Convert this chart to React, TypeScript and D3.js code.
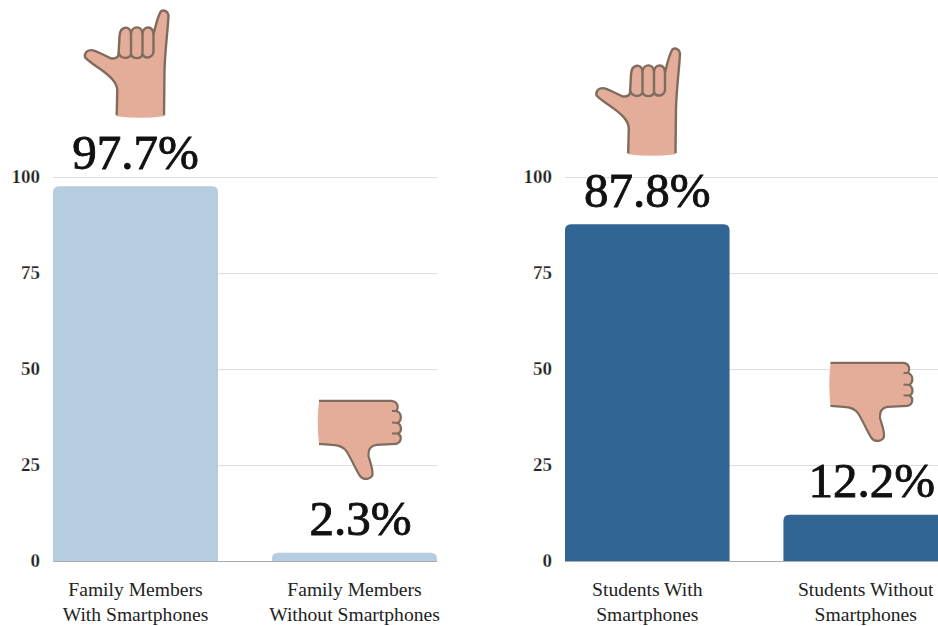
import React from "react";
import * as d3 from "d3";

const ticks = [0, 25, 50, 75, 100];
const familyCategories = [["Family Members", "With Smartphones"], ["Family Members", "Without Smartphones"]];
const familyValues = [97.7, 2.3];
const studentCategories = [["Students With", "Smartphones"], ["Students Without", "Smartphones"]];
const studentValues = [87.8, 12.2];
const colors = { family: "#b6cce0", student: "#316594" };

const y = d3.scaleLinear().domain([0, 100]).range([561.5, 177.5]);
const serif = "'Liberation Serif', serif";
const SKIN = "#e3ad99";
const LINE = "#7f6c5c";

const upOutline = "C57 82 50 76 42 70 C34 64 28 61 25 57 C24 52 28 49 33 50 C40 52 46 56 51 58 C54 58.5 57 58 58.5 55 L59.5 36 C60 25 70.5 25 71 33 C72 25 82 25 82.5 33 C83.5 25 93 25 93.5 34 C96 24 98 15 101 11 C104 9 108 11 108.5 15 C108 28 105 50 104.5 70 L104";
const upFill = `M56.7 116 L57.3 90 ${upOutline} 116 Q80 119 56.7 116 Z`;
const upLine = `M56.7 115 L57.3 90 ${upOutline} 115`;
const fingerLines = ["M58.5 52 C60 59 69 59 71 54 L71 33", "M71 54 C73 59 81 59 82.5 54 L82.5 33", "M82.5 54 C85 59 92 58 93.5 52 L93.5 34"];
const downOutline = "M19 11 L92 11 C98 12 99 17 96.5 21 C102 23 102 30 98 33 C102 36 102 42 98 43.5 C102 46 102 52 96 54 L76 55 C70 56 68 60 68.5 66 C70 72 73 78 72.5 85 C71 89 64 91 60 86 C56 80 53 72 47 62 C43 56 38 55 32 55 L19 54";
const downFill = `${downOutline} Q16.5 32 19 11 Z`;
const downLine = downOutline;
const downKnuckles = ["M96.5 21 L92 21", "M98 33 L92 32.5", "M98 43.5 L92 43.5"];

function topRounded(x: number, top: number, w: number, bottom: number, r: number) {
  const p = d3.path();
  const rr = Math.min(r, bottom - top);
  p.moveTo(x, bottom);
  p.lineTo(x, top + rr);
  p.quadraticCurveTo(x, top, x + rr, top);
  p.lineTo(x + w - rr, top);
  p.quadraticCurveTo(x + w, top, x + w, top + rr);
  p.lineTo(x + w, bottom);
  p.closePath();
  return p.toString();
}

function Panel({ x0, x1, gridEnd, tickX, cats, vals, color, handDx }: any) {
  const x = d3.scaleBand<number>().domain([0, 1]).range([x0, x1]).paddingInner(54 / 219).paddingOuter(0);
  return (
    <g>
      {ticks.map((t) => (
        <g key={t}>
          {t > 0 && <line x1={x0} x2={gridEnd} y1={y(t)} y2={y(t)} stroke="#dcdcdc" />}
          <text x={tickX} y={y(t) + 5.5} textAnchor="end" fontFamily={serif} fontWeight={700} fontSize={19} fill="#222" stroke="#fff" strokeWidth={0.25}>{t}</text>
        </g>
      ))}
      {vals.map((v: number, i: number) => {
        const bx = x(i)!;
        const cx = bx + x.bandwidth() / 2;
        const top = y(v);
        const up = i === 0;
        return (
          <g key={i}>
            <path d={topRounded(bx, top, x.bandwidth(), y(0), 6)} fill={color} />
            <text x={cx + (up ? 0 : 6)} y={top - 17.5} textAnchor="middle" fontFamily={serif} fontSize={49} fill="#111" stroke="#111" strokeWidth={0.9}>{v}%</text>
            {up ? (
              <g transform={`translate(${60 + handDx},${top - 186})`}>
                <path d={upFill} fill={SKIN} />
                <path d={upLine} fill="none" stroke={LINE} strokeWidth={2.4} strokeLinejoin="round" />
                {fingerLines.map((d) => <path key={d} d={d} fill="none" stroke={LINE} strokeWidth={2.4} />)}
              </g>
            ) : (
              <g transform={`translate(${300 + handDx},${top - 162.7})`}>
                <path d={downFill} fill={SKIN} />
                <path d={downLine} fill="none" stroke={LINE} strokeWidth={2.2} strokeLinejoin="round" />
                {downKnuckles.map((d) => <path key={d} d={d} fill="none" stroke={LINE} strokeWidth={2} />)}
              </g>
            )}
            {cats[i].map((line: string, k: number) => (
              <text key={k} x={cx} y={596 + k * 25} textAnchor="middle" fontFamily={serif} fontSize={19.6} fill="#222">{line}</text>
            ))}
          </g>
        );
      })}
      <line x1={x0} x2={gridEnd} y1={y(0)} y2={y(0)} stroke="#a9a9a9" />
    </g>
  );
}

export default function App() {
  return (
    <svg width={938} height={626} style={{ position: "absolute", left: 0, top: 0, display: "block", background: "#fff" }}>
      <Panel x0={53} x1={437} gridEnd={437} tickX={40} cats={familyCategories} vals={familyValues} color={colors.family} handDx={0} />
      <Panel x0={565} x1={948} gridEnd={938} tickX={552} cats={studentCategories} vals={studentValues} color={colors.student} handDx={511.5} />
    </svg>
  );
}
